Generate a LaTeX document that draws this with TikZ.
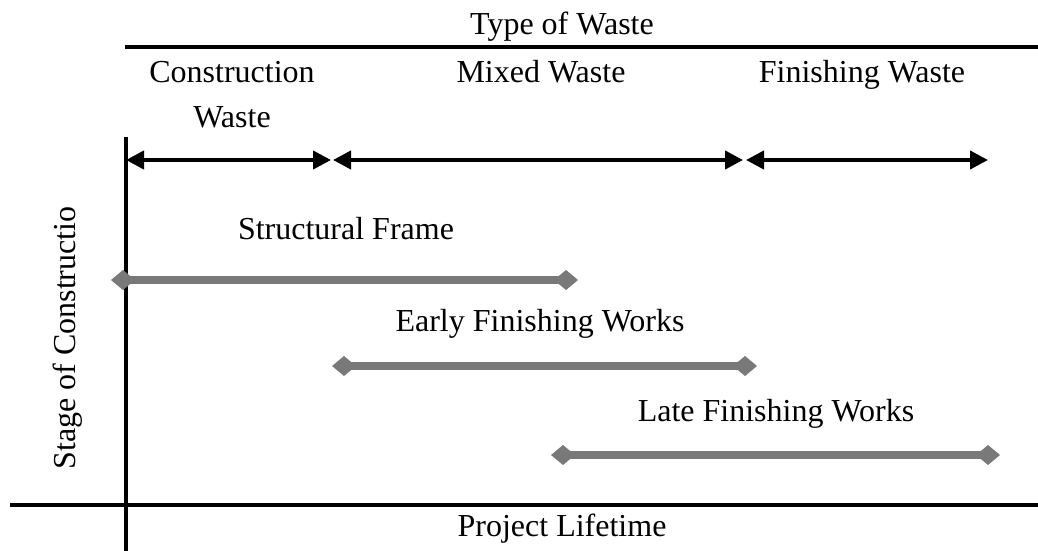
\documentclass[tikz,border=0pt]{standalone}
\usepackage{fontspec}
\setmainfont{Liberation Serif}
\usetikzlibrary{arrows.meta}

\tikzset{
  lbl/.style={font=\fontsize{16}{19}\selectfont, inner sep=0pt, anchor=base},
  axis/.style={line width=1.6pt},
  span/.style={line width=2pt, {Triangle[length=9pt,width=9pt]}-{Triangle[length=9pt,width=9pt]}},
  stage/.style={line width=3.6pt, color=gray!95!black, {Diamond[length=12pt,width=10pt]}-{Diamond[length=12pt,width=10pt]}}
}

\begin{document}
\begin{tikzpicture}[x=0.5pt, y=-0.5pt]
            \useasboundingbox (0,0) rectangle (1038,551);

            % axes
            \coordinate (top-l) at (125,47);
            \coordinate (top-r) at (1038,47);
            \coordinate (vax-t) at (126,137);
            \coordinate (vax-b) at (126,551);
            \coordinate (hax-l) at (10,505);
            \coordinate (hax-r) at (1038,505);
            \draw[axis] (top-l) -- (top-r);
            \draw[axis] (vax-t) -- (vax-b);
            \draw[axis] (hax-l) -- (hax-r);

            \node[lbl] (type) at (562,35) {Type of Waste};
            \node[lbl] (life) at (562,536) {Project Lifetime};
            \node[lbl, rotate=90, anchor=center] (stage) at (68,338) {Stage of Constructio};

            % waste types
            \node[lbl] (cw1) at (232,83) {Construction};
            \node[lbl] (cw2) at (232,127) {Waste};
            \node[lbl] (mw) at (541,83) {Mixed Waste};
            \node[lbl] (fw) at (862,83) {Finishing Waste};

            \coordinate (a0) at (126,160);
            \coordinate (a1) at (331,160);
            \coordinate (a2) at (333,160);
            \coordinate (a3) at (743,160);
            \coordinate (a4) at (746,160);
            \coordinate (a5) at (988,160);
            \draw[span] (a0) -- (a1);
            \draw[span] (a2) -- (a3);
            \draw[span] (a4) -- (a5);

            % stages
            \node[lbl] (sf) at (346,239) {Structural Frame};
            \node[lbl] (ef) at (540,331) {Early Finishing Works};
            \node[lbl] (lf) at (776,421) {Late Finishing Works};

            \coordinate (sf-l) at (111,280);
            \coordinate (sf-r) at (578,280);
            \coordinate (ef-l) at (332,366);
            \coordinate (ef-r) at (757,366);
            \coordinate (lf-l) at (551,455);
            \coordinate (lf-r) at (1000,455);
            \draw[stage] (sf-l) -- (sf-r);
            \draw[stage] (ef-l) -- (ef-r);
            \draw[stage] (lf-l) -- (lf-r);
        \end{tikzpicture}
\end{document}
